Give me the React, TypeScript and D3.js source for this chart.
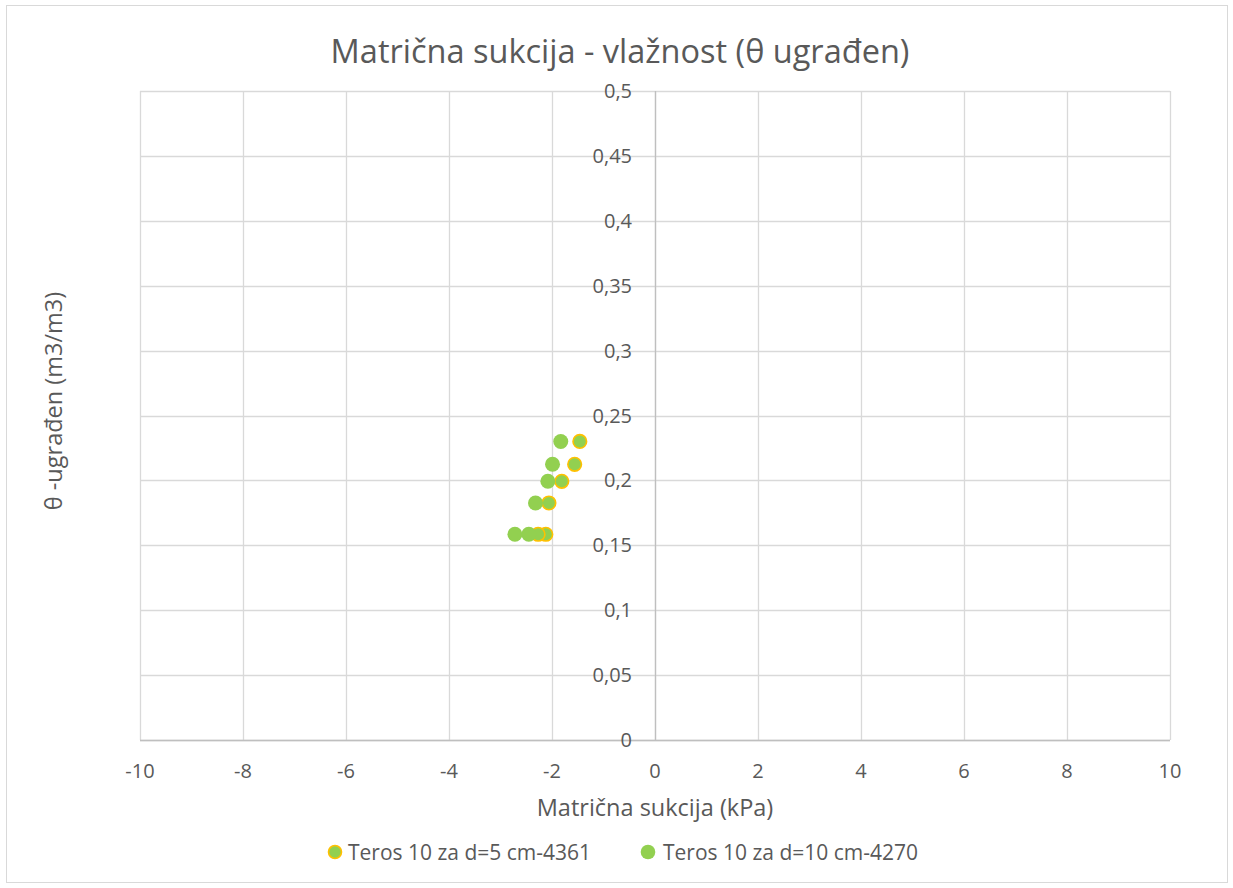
import React, { useEffect, useRef } from 'react';
import * as d3 from 'd3';

const series1X = [-1.46, -1.56, -1.81, -2.06, -2.12, -2.27];
const series1Y = [0.23, 0.2124, 0.1993, 0.1826, 0.1585, 0.1585];
const series2X = [-1.83, -1.99, -2.08, -2.32, -2.45, -2.72];
const series2Y = [0.23, 0.2124, 0.1993, 0.1826, 0.1585, 0.1585];
const xTicks = [-10, -8, -6, -4, -2, 0, 2, 4, 6, 8, 10];
const yTicks = [0, 0.05, 0.1, 0.15, 0.2, 0.25, 0.3, 0.35, 0.4, 0.45, 0.5];
const seriesNames = ['Teros 10 za d=5 cm-4361', 'Teros 10 za d=10 cm-4270'];

const App = () => {
    const svgRef = useRef<SVGSVGElement>(null);

    useEffect(() => {
        drawChart();
    }, []);

    const drawChart = () => {
        const W = 1233;
        const H = 888;
        const left = 140, right = 1170, top = 91, bottom = 740;
        const font = 'Open Sans, Liberation Sans, sans-serif';
        const txt = '#595959';
        const grid = '#d9d9d9';

        const svg = d3.select(svgRef.current).attr('width', W).attr('height', H);
        svg.selectAll('*').remove();

        svg.append('rect').attr('x', 6.5).attr('y', 5.5).attr('width', 1221).attr('height', 877)
            .attr('fill', 'white').attr('stroke', grid).attr('stroke-width', 1);

        const x = d3.scaleLinear().domain([-10, 10]).range([left, right]);
        const y = d3.scaleLinear().domain([0, 0.5]).range([bottom, top]);
        const fmt = (v: number) => (Math.round(v * 100) / 100).toString().replace('.', ',');

        // gridlines
        svg.append('g').selectAll('line').data(xTicks).enter().append('line')
            .attr('x1', d => Math.round(x(d)) + 0.5).attr('x2', d => Math.round(x(d)) + 0.5)
            .attr('y1', top).attr('y2', bottom).attr('stroke', grid).attr('stroke-width', 1.3);
        svg.append('g').selectAll('line').data(yTicks).enter().append('line')
            .attr('y1', d => Math.round(y(d)) + 0.5).attr('y2', d => Math.round(y(d)) + 0.5)
            .attr('x1', left).attr('x2', right).attr('stroke', grid).attr('stroke-width', 1.3);

        // axes
        svg.append('line').attr('x1', left).attr('x2', right)
            .attr('y1', Math.round(y(0)) + 0.5).attr('y2', Math.round(y(0)) + 0.5)
            .attr('stroke', '#bfbfbf').attr('stroke-width', 1.3);
        svg.append('line').attr('x1', Math.round(x(0)) + 0.5).attr('x2', Math.round(x(0)) + 0.5)
            .attr('y1', top).attr('y2', bottom).attr('stroke', '#bfbfbf').attr('stroke-width', 1.3);

        // tick labels
        svg.append('g').selectAll('text').data(xTicks).enter().append('text')
            .attr('x', d => x(d)).attr('y', 778).attr('text-anchor', 'middle')
            .attr('font-family', font).attr('font-size', 20).attr('fill', txt).text(d => d.toString());
        svg.append('g').selectAll('text').data(yTicks).enter().append('text')
            .attr('x', 632).attr('y', d => y(d) + 7).attr('text-anchor', 'end')
            .attr('font-family', font).attr('font-size', 20).attr('fill', txt).text(d => fmt(d));

        // titles
        svg.append('text').attr('x', 620).attr('y', 63).attr('text-anchor', 'middle')
            .attr('font-family', font).attr('font-size', 32.5).attr('fill', txt)
            .text('Matrična sukcija - vlažnost (θ ugrađen)');
        svg.append('text').attr('x', x(0)).attr('y', 816).attr('text-anchor', 'middle')
            .attr('font-family', font).attr('font-size', 23.5).attr('fill', txt)
            .text('Matrična sukcija (kPa)');
        svg.append('text').attr('transform', `translate(62,401) rotate(-90)`)
            .attr('text-anchor', 'middle').attr('font-family', font).attr('font-size', 23.5).attr('fill', txt)
            .text('θ -ugrađen (m3/m3)');

        // points
        const s1 = series1X.map((v, i) => [v, series1Y[i]]);
        const s2 = series2X.map((v, i) => [v, series2Y[i]]);
        svg.append('g').selectAll('circle').data(s1).enter().append('circle')
            .attr('cx', d => x(d[0])).attr('cy', d => y(d[1])).attr('r', 6.8)
            .attr('fill', '#92D050').attr('stroke', '#FFC000').attr('stroke-width', 1.6);
        svg.append('g').selectAll('circle').data(s2).enter().append('circle')
            .attr('cx', d => x(d[0])).attr('cy', d => y(d[1])).attr('r', 7.5)
            .attr('fill', '#92D050');

        // legend
        const lg = svg.append('g');
        lg.append('circle').attr('cx', 335).attr('cy', 852).attr('r', 6.5)
            .attr('fill', '#92D050').attr('stroke', '#FFC000').attr('stroke-width', 1.6);
        lg.append('text').attr('x', 348).attr('y', 860).attr('font-family', font).attr('font-size', 21)
            .attr('fill', txt).text(seriesNames[0]);
        lg.append('circle').attr('cx', 648).attr('cy', 852).attr('r', 7.3).attr('fill', '#92D050');
        lg.append('text').attr('x', 663).attr('y', 860).attr('font-family', font).attr('font-size', 21)
            .attr('fill', txt).text(seriesNames[1]);
    };

    return (
        <div style={{ position: 'absolute', left: 0, top: 0 }}>
            <svg ref={svgRef} style={{ display: 'block' }}></svg>
        </div>
    );
};

export default App;
